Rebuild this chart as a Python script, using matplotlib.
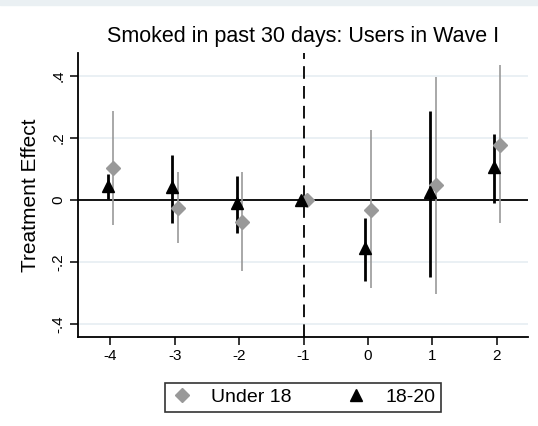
import numpy as np
import matplotlib
matplotlib.use("Agg")
import matplotlib.pyplot as plt
from matplotlib.patches import Rectangle

plt.rcParams['font.family'] = ['Liberation Sans', 'DejaVu Sans']

periods = [-4, -3, -2, -1, 0, 1, 2]

# Under 18 (grey diamonds)
u18_est = [0.103, -0.026, -0.071, 0.0, -0.032, 0.048, 0.177]
u18_lo = [-0.081, -0.139, -0.229, 0.0, -0.284, -0.303, -0.074]
u18_hi = [0.287, 0.090, 0.090, 0.0, 0.226, 0.397, 0.435]

# 18-20 (black triangles)
a18_est = [0.045, 0.040, -0.010, 0.0, -0.155, 0.026, 0.106]
a18_lo = [0.002, -0.074, -0.107, 0.0, -0.261, -0.248, -0.010]
a18_hi = [0.084, 0.145, 0.077, 0.0, -0.058, 0.287, 0.213]

yticks = [-0.4, -0.2, 0, 0.2, 0.4]
ytick_labels = ["-.4", "-.2", "0", ".2", ".4"]

x = np.array(periods, dtype=float)

fig = plt.figure(figsize=(5.38, 4.26), dpi=100)
fig.patches.append(Rectangle((0, 0.988), 1, 0.012, transform=fig.transFigure,
                             color="#eaf0f3", zorder=0))
ax = fig.add_axes([0.145, 0.209, 0.836, 0.667])

for v in [-0.4, -0.2, 0.2, 0.4]:
    ax.axhline(v, color="#e6eef2", lw=1.2, zorder=0)
ax.axhline(0, color="black", lw=1.3, zorder=1)
ax.axvline(-1, color="black", lw=1.3, ls=(0, (7, 4)), zorder=1)

xu = x + 0.05
xa = x - 0.04
ax.vlines(xu, u18_lo, u18_hi, color="#999999", lw=1.2, zorder=2)
ax.vlines(xa, a18_lo, a18_hi, color="black", lw=2.0, zorder=3)
ax.plot(xu, u18_est, ls="none", marker="D", ms=7.5, color="#999999",
        label="Under 18", zorder=4)
ax.plot(xa, a18_est, ls="none", marker="^", ms=8.5, color="black",
        label="18-20", zorder=5)

ax.set_xlim(-4.5, 2.48)
ax.set_ylim(-0.442, 0.474)
ax.set_xticks(periods)
ax.set_xticklabels([str(p) for p in periods], fontsize=11)
ax.set_yticks(yticks)
ax.set_yticklabels(ytick_labels, fontsize=11, rotation=90, va="center")
ax.spines["top"].set_visible(False)
ax.spines["right"].set_visible(False)
ax.spines["left"].set_linewidth(1.3)
ax.spines["bottom"].set_linewidth(1.3)
ax.tick_params(direction="out", length=6, width=1.1, pad=3)

ax.set_ylabel("Treatment Effect", fontsize=15, labelpad=8)
ax.set_title("Smoked in past 30 days: Users in Wave I", fontsize=15.5, pad=8)

leg = fig.legend(loc="center", bbox_to_anchor=(0.563, 0.067), ncol=2,
                 frameon=True, fancybox=False, edgecolor="black",
                 fontsize=14, columnspacing=2.7, handletextpad=0.9,
                 handlelength=1.2, borderpad=0.3, borderaxespad=0)
leg.get_frame().set_linewidth(1.2)

fig.savefig("out.png", dpi=100, facecolor="white")
